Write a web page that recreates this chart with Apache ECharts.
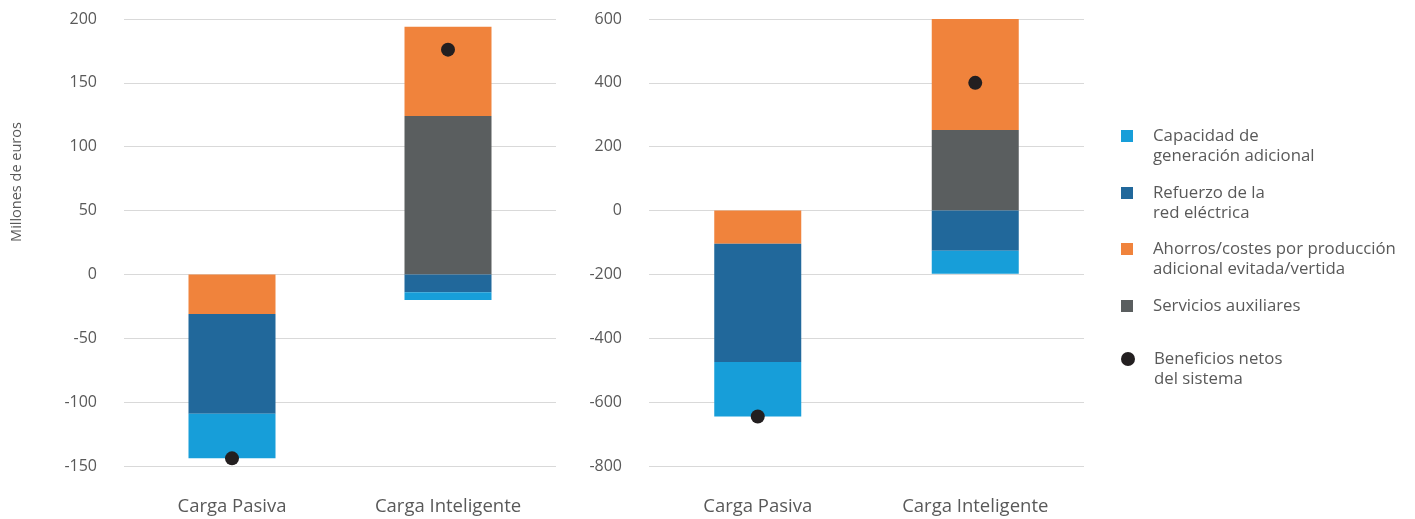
<!DOCTYPE html>
<html>
<head>
<meta charset="utf-8">
<script src="https://cdn.jsdelivr.net/npm/echarts@6/dist/echarts.min.js"></script>
<style>
  html, body { margin: 0; padding: 0; background: #ffffff; }
  #chart { width: 1415px; height: 519px; }
</style>
</head>
<body>
<div id="chart"></div>
<script>
// ---- Data ----
const categories = ['Carga Pasiva', 'Carga Inteligente'];

// Left panel (Millones de euros)
const leftServicios = [0, 124];
const leftAhorros = [-31, 70];
const leftRefuerzo = [-78, -14];
const leftCapacidad = [-35, -6];
const leftNeto = [-144, 176];
const leftTicks = { min: -150, max: 200, interval: 50 };

// Right panel
const rightServicios = [0, 252];
const rightAhorros = [-104, 348];
const rightRefuerzo = [-370, -126];
const rightCapacidad = [-171, -72];
const rightNeto = [-645, 400];
const rightTicks = { min: -800, max: 600, interval: 200 };

const seriesNames = {
  cap: 'Capacidad de generación adicional',
  ref: 'Refuerzo de la red eléctrica',
  aho: 'Ahorros/costes por producción adicional evitada/vertida',
  ser: 'Servicios auxiliares',
  net: 'Beneficios netos del sistema'
};
const legendLabels = {};
legendLabels[seriesNames.cap] = 'Capacidad de\ngeneración adicional';
legendLabels[seriesNames.ref] = 'Refuerzo de la\nred eléctrica';
legendLabels[seriesNames.aho] = 'Ahorros/costes por producción\nadicional evitada/vertida';
legendLabels[seriesNames.ser] = 'Servicios auxiliares';
legendLabels[seriesNames.net] = 'Beneficios netos\ndel sistema';

const colors = {
  cap: '#179ED9',
  ref: '#21689B',
  aho: '#F0833C',
  ser: '#5A5E5F',
  net: '#231F20'
};

const FONT = '"Open Sans", Lato, sans-serif';
const TEXT = '#595959';

function barSeries(name, color, data, idx, stack) {
  return {
    name: name, type: 'bar', stack: stack,
    xAxisIndex: idx, yAxisIndex: idx,
    barWidth: 87,
    itemStyle: { color: color },
    data: data,
    emphasis: { disabled: true }
  };
}
function netSeries(data, idx) {
  return {
    name: seriesNames.net, type: 'scatter',
    xAxisIndex: idx, yAxisIndex: idx,
    symbol: 'circle', symbolSize: 14,
    itemStyle: { color: colors.net, opacity: 1 },
    data: data, z: 5
  };
}

function xAxisDef(gridIndex) {
  return {
    type: 'category', gridIndex: gridIndex, data: categories,
    axisLine: { show: false, onZero: false },
    axisTick: { show: false },
    axisLabel: { color: TEXT, fontFamily: FONT, fontSize: 18.5, margin: 31 }
  };
}
function yAxisDef(gridIndex, t) {
  return {
    type: 'value', gridIndex: gridIndex,
    min: t.min, max: t.max, interval: t.interval,
    axisLine: { show: false }, axisTick: { show: false },
    axisLabel: { color: TEXT, fontFamily: FONT, fontSize: 16, margin: 27 },
    splitLine: { lineStyle: { color: '#d9d9d9', width: 1 } }
  };
}

function legendDef(name, iconCenter, icon, size) {
  const lines = legendLabels[name].split('\n');
  // a leading blank line keeps the first text line level with the icon
  const shown = lines.length > 1 ? ' \n' + lines.join('\n') : lines[0];
  const boxH = (lines.length > 1 ? lines.length + 1 : 1) * 20;
  return {
    data: [{ name: name, icon: icon }],
    orient: 'vertical',
    left: 1121, top: iconCenter - boxH / 2,
    padding: 0,
    itemWidth: size, itemHeight: size,
    selectedMode: false,
    formatter: function () { return shown; },
    textStyle: {
      color: TEXT, fontFamily: FONT, fontSize: 16.8, lineHeight: 20,
      padding: [0, 0, 0, (icon === 'circle' ? 14 : 15)]
    }
  };
}

const chart = echarts.init(document.getElementById('chart'), null, { renderer: 'canvas' });
chart.setOption({
  animation: false,
  backgroundColor: '#ffffff',
  grid: [
    { left: 124, top: 19, width: 432, height: 447 },
    { left: 649, top: 19, width: 435, height: 447 }
  ],
  xAxis: [xAxisDef(0), xAxisDef(1)],
  yAxis: [yAxisDef(0, leftTicks), yAxisDef(1, rightTicks)],
  legend: [
    legendDef(seriesNames.cap, 136, 'rect', 12),
    legendDef(seriesNames.ref, 193, 'rect', 12),
    legendDef(seriesNames.aho, 249, 'rect', 12),
    legendDef(seriesNames.ser, 306, 'rect', 12),
    legendDef(seriesNames.net, 359, 'circle', 14)
  ],
  graphic: [{
    type: 'text', x: 17, y: 182, rotation: Math.PI / 2,
    style: {
      text: 'Millones de euros', fill: TEXT, font: '14.5px ' + FONT,
      align: 'center', verticalAlign: 'middle'
    }
  }],
  series: [
    barSeries(seriesNames.ser, colors.ser, leftServicios, 0, 'L'),
    barSeries(seriesNames.aho, colors.aho, leftAhorros, 0, 'L'),
    barSeries(seriesNames.ref, colors.ref, leftRefuerzo, 0, 'L'),
    barSeries(seriesNames.cap, colors.cap, leftCapacidad, 0, 'L'),
    netSeries(leftNeto, 0),
    barSeries(seriesNames.ser, colors.ser, rightServicios, 1, 'R'),
    barSeries(seriesNames.aho, colors.aho, rightAhorros, 1, 'R'),
    barSeries(seriesNames.ref, colors.ref, rightRefuerzo, 1, 'R'),
    barSeries(seriesNames.cap, colors.cap, rightCapacidad, 1, 'R'),
    netSeries(rightNeto, 1)
  ]
});
</script>
</body>
</html>
